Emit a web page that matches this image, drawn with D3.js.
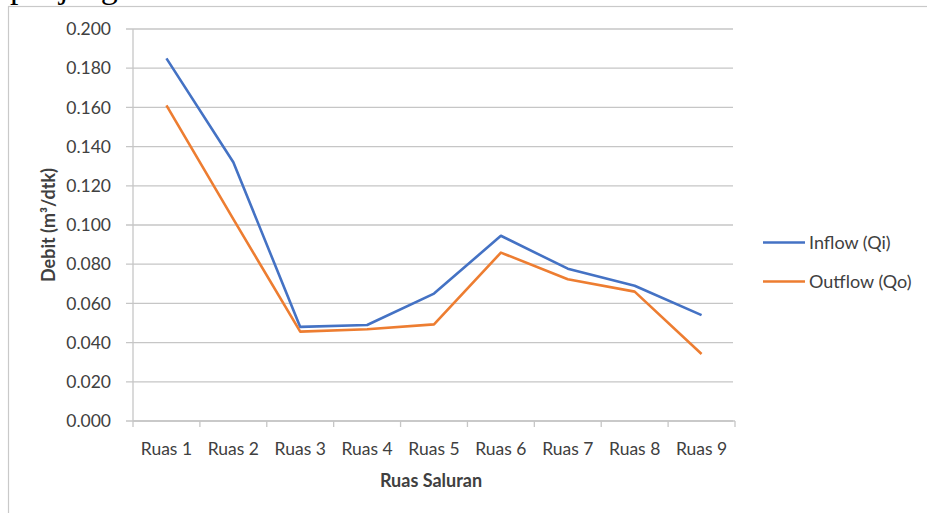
<!DOCTYPE html>
<html><head><meta charset="utf-8">
<script src="https://cdn.jsdelivr.net/npm/d3@7"></script>
<style>
html,body{margin:0;padding:0;background:#fff;}
svg{display:block;}
text{font-family:Lato,"Open Sans",sans-serif;fill:#404040;}
</style></head>
<body>
<svg id="c" width="927" height="513"></svg>
<script>
const categories = ["Ruas 1","Ruas 2","Ruas 3","Ruas 4","Ruas 5","Ruas 6","Ruas 7","Ruas 8","Ruas 9"];
const inflow  = [0.185,0.132,0.048,0.049,0.065,0.0945,0.0777,0.069,0.054];
const outflow = [0.161,0.103,0.0456,0.0468,0.0493,0.0859,0.0723,0.066,0.0342];
const yTicks = [0,0.02,0.04,0.06,0.08,0.1,0.12,0.14,0.16,0.18,0.2];
const seriesNames = ["Inflow (Qi)","Outflow (Qo)"];
const colors = ["#4472C4","#ED7D31"];

(function(){
const svg = d3.select("#c");
// stray cropped caption text
svg.append("text").attr("x",10).attr("y",-2)
  .style("font-family","'Liberation Serif',serif").style("font-size","34px").style("fill","#000")
  .text("panjang");
// chart border
svg.append("rect").attr("x",8.5).attr("y",6.5).attr("width",940).attr("height",540)
  .attr("fill","none").attr("stroke","#c9c9c9").attr("stroke-width",1.2);

const pL=133, pR=735, pT=29, pB=421;
const x = d3.scaleBand().domain(categories).range([pL,pR]);
const y = d3.scaleLinear().domain([0,0.2]).range([pB,pT]);

// gridlines
svg.append("g").selectAll("line").data(yTicks).join("line")
  .attr("x1",pL-7).attr("x2",pR-2).attr("y1",d=>y(d)).attr("y2",d=>y(d))
  .attr("stroke","#c6c6c6").attr("stroke-width",1.3);
// y axis line
svg.append("line").attr("x1",pL).attr("x2",pL).attr("y1",pT).attr("y2",pB)
  .attr("stroke","#c6c6c6").attr("stroke-width",1.3);
// y labels
svg.append("g").selectAll("text").data(yTicks).join("text")
  .attr("x",111).attr("y",d=>y(d)).attr("dy","0.35em").attr("text-anchor","end")
  .style("font-size","17.5px").text(d=>d3.format(".3f")(d));

// x axis
const xAxis = d3.axisBottom(x).tickSize(0).tickPadding(0);
const gx = svg.append("g").attr("transform",`translate(0,${pB})`).call(xAxis);
gx.select(".domain").remove();
gx.selectAll("text").attr("y",22).style("font-size","17.5px").style("font-family","Lato,'Open Sans',sans-serif").attr("fill","#404040");
// x axis line + boundary ticks
svg.append("line").attr("x1",pL).attr("x2",pR).attr("y1",pB).attr("y2",pB)
  .attr("stroke","#c6c6c6").attr("stroke-width",1.3);
const bounds = categories.map(c=>x(c)).concat([x(categories[categories.length-1])+x.bandwidth()]);
svg.append("g").selectAll("line").data(bounds).join("line")
  .attr("x1",d=>d).attr("x2",d=>d).attr("y1",pB).attr("y2",pB+6)
  .attr("stroke","#c6c6c6").attr("stroke-width",1.3);

// lines
const line = d3.line().x((d,i)=>x(categories[i])+x.bandwidth()/2).y(d=>y(d));
[inflow,outflow].forEach((s,i)=>{
  svg.append("path").datum(s).attr("d",line).attr("fill","none")
    .attr("stroke",colors[i]).attr("stroke-width",2.6).attr("stroke-linejoin","round");
});

// axis titles
svg.append("text").attr("transform","translate(55,225) rotate(-90)").attr("text-anchor","middle")
  .style("font-size","18px").style("font-weight","bold").text("Debit (m³/dtk)");
svg.append("text").attr("x",431).attr("y",487).attr("text-anchor","middle")
  .style("font-size","18px").style("font-weight","bold").text("Ruas Saluran");

// legend
const lg = svg.append("g");
seriesNames.forEach((n,i)=>{
  const yy = 242.5 + i*39;
  lg.append("line").attr("x1",763).attr("x2",805).attr("y1",yy).attr("y2",yy)
    .attr("stroke",colors[i]).attr("stroke-width",2.6);
  lg.append("text").attr("x",809).attr("y",yy).attr("dy","0.35em").style("font-size","18px").text(n);
});
})();
</script>
</body></html>
